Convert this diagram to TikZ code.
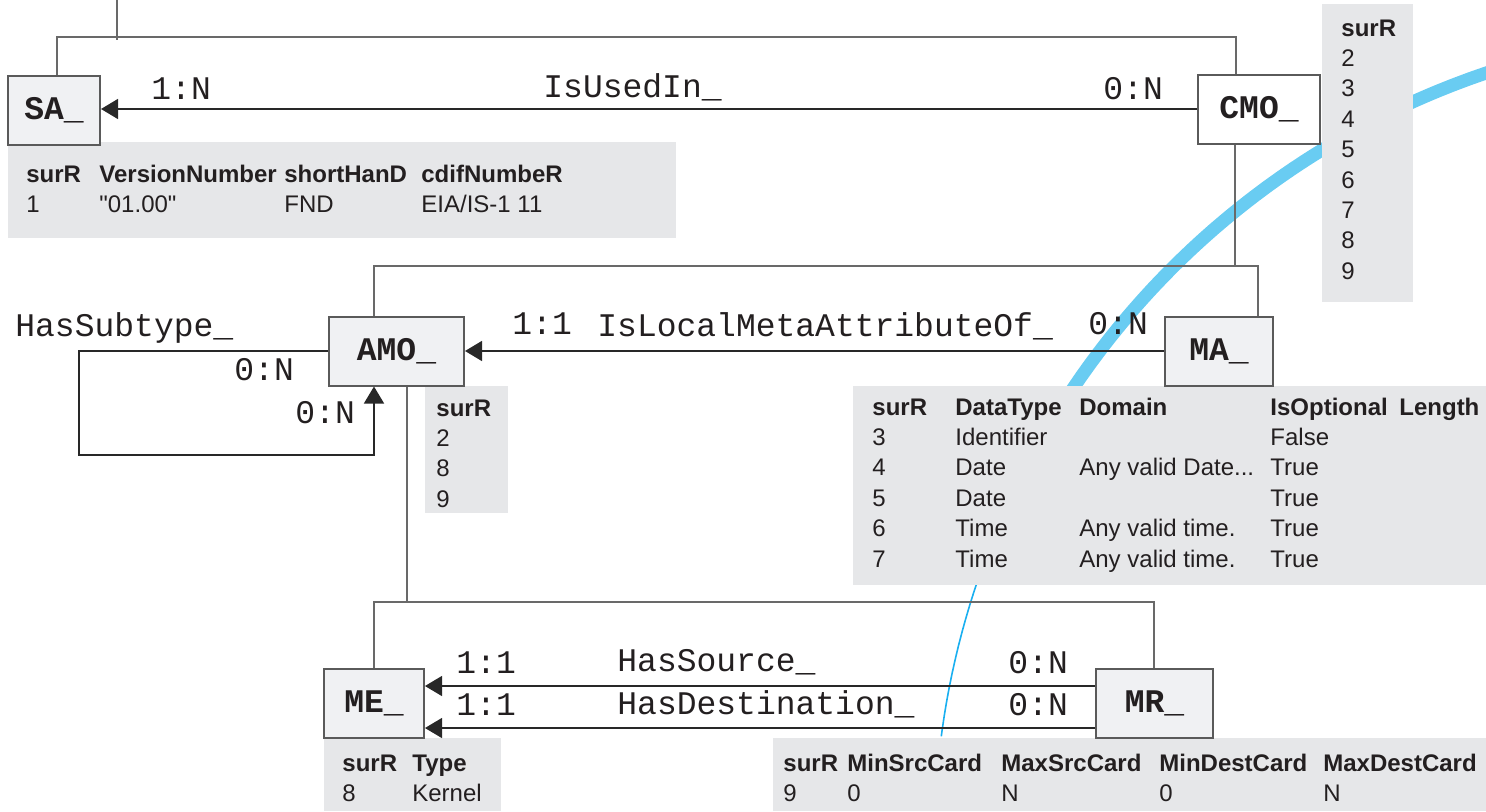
\documentclass[tikz,border=0pt]{standalone}
\usepackage{fontspec}
\setmainfont{Liberation Sans}[Ligatures=TeXOff]
\newfontfamily\codefont{Liberation Mono}
\usetikzlibrary{arrows.meta}
\definecolor{tblfill}{RGB}{230,231,233}
\definecolor{boxfill}{RGB}{240,241,243}
\definecolor{boxline}{RGB}{90,90,90}
\definecolor{wirecol}{RGB}{105,105,105}
\definecolor{relcol}{RGB}{40,40,40}
\definecolor{ink}{RGB}{35,31,32}
\definecolor{bandcol}{RGB}{105,204,242}
\definecolor{arccol}{RGB}{25,175,240}

\begin{document}
\begin{tikzpicture}[x=0.5pt,y=-0.5pt,
  entity/.style={draw=boxline, line width=1pt, fill=boxfill, inner sep=0pt,
    minimum height=34.5pt, font=\codefont\fontsize{16.5}{18}\selectfont\bfseries, text=ink},
  wire/.style={draw=wirecol, line width=0.75pt},
  rel/.style={draw=relcol, line width=0.7pt, -{Triangle[length=8.5pt,width=10pt]}},
  lbl/.style={anchor=base west, inner sep=0pt, text=ink,
    font=\codefont\fontsize{16.5}{18}\selectfont},
  tbl/.style={anchor=base west, inner sep=0pt, text=ink,
    font=\fontsize{12}{15.2}\selectfont},
  band/.style={draw=bandcol, line width=6.5pt},
  thinarc/.style={draw=arccol, line width=0.8pt}]
\useasboundingbox (0,0) rectangle (1486,811);

% sweeping arc in the background
\begin{scope}
  \clip (0,0) rectangle (1486,811);
  \draw[band] plot[domain=104:152,samples=90]
    ({1746.5+812.2*cos(\x)},{842.3-812.2*sin(\x)});
  \draw[thinarc] plot[domain=150:172.5,samples=60]
    ({1746.5+812.2*cos(\x)},{842.3-812.2*sin(\x)});
\end{scope}

% attribute tables
\fill[tblfill] (8,142) rectangle (676,238);
\node[tbl] (satab) at (26,182) {\setlength\tabcolsep{0pt}%
  \begin{tabular}[t]{p{36.5pt}p{92.5pt}p{68.5pt}l}
  \bfseries surR & \bfseries VersionNumber & \bfseries shortHanD & \bfseries cdifNumbeR\\
  1 & "01.00" & FND & EIA/IS-1 11
  \end{tabular}};

\fill[tblfill] (1322,4) rectangle (1413,302);
\node[tbl] (cmotab) at (1341,36) {\setlength\tabcolsep{0pt}%
  \begin{tabular}[t]{l}
  \bfseries surR\\ 2\\ 3\\ 4\\ 5\\ 6\\ 7\\ 8\\ 9
  \end{tabular}};

\fill[tblfill] (425,386) rectangle (508,513);
\node[tbl] (amotab) at (436,416) {\setlength\tabcolsep{0pt}%
  \begin{tabular}[t]{l}
  \bfseries surR\\ 2\\ 8\\ 9
  \end{tabular}};

\fill[tblfill] (853,386) rectangle (1486,585);
\node[tbl] (matab) at (872,415) {\setlength\tabcolsep{0pt}%
  \begin{tabular}[t]{p{41.5pt}p{62pt}p{95.5pt}p{64.5pt}l}
  \bfseries surR & \bfseries DataType & \bfseries Domain & \bfseries IsOptional & \bfseries Length\\
  3 & Identifier & & False & \\
  4 & Date & Any valid Date... & True & \\
  5 & Date & & True & \\
  6 & Time & Any valid time. & True & \\
  7 & Time & Any valid time. & True &
  \end{tabular}};

\fill[tblfill] (324,738) rectangle (501,811);
\node[tbl] (metab) at (342,771) {\setlength\tabcolsep{0pt}%
  \begin{tabular}[t]{p{35pt}l}
  \bfseries surR & \bfseries Type\\
  8 & Kernel
  \end{tabular}};

\fill[tblfill] (773,738) rectangle (1486,811);
\node[tbl] (mrtab) at (783,771) {\setlength\tabcolsep{0pt}%
  \begin{tabular}[t]{p{32pt}p{77pt}p{79pt}p{82pt}l}
  \bfseries surR & \bfseries MinSrcCard & \bfseries MaxSrcCard & \bfseries MinDestCard & \bfseries MaxDestCard\\
  9 & 0 & N & 0 & N
  \end{tabular}};

% entity boxes
\node[entity, minimum width=46pt]               (sa)  at (54,110.5)   {SA\_};
\node[entity, minimum width=61pt, fill=white]   (cmo) at (1259,109.5) {CMO\_};
\node[entity, minimum width=67.5pt]             (amo) at (396.5,351)  {AMO\_};
\node[entity, minimum width=54pt]               (ma)  at (1219,351.5) {MA\_};
\node[entity, minimum width=50pt]               (me)  at (374,703.5)  {ME\_};
\node[entity, minimum width=58.5pt]             (mr)  at (1154.5,703.5) {MR\_};

% hierarchy wiring
\coordinate (tin) at (117,0);
\coordinate (tinend) at (117,40);
\coordinate (tl) at (57,37);
\coordinate (tr) at (1236,37);
\draw[wire] (tin) -- (tinend);
\draw[wire] (sa.north -| tl) -- (tl) -- (tr) -- (cmo.north -| tr);

\coordinate (mc) at (1235,266);
\coordinate (ml) at (374,266);
\coordinate (mr2) at (1258,266);
\draw[wire] (cmo.south -| mc) -- (mc);
\draw[wire] (amo.north -| ml) -- (ml) -- (mr2) -- (ma.north -| mr2);

\coordinate (bc) at (407,603);
\coordinate (bl) at (374,602);
\coordinate (br) at (1154,602);
\draw[wire] (amo.south -| bc) -- (bc);
\draw[wire] (me.north -| bl) -- (bl) -- (br) -- (mr.north -| br);

% relationships
\coordinate (used) at (0,109);
\draw[rel] (cmo.west |- used) -- (sa.east |- used);
\draw[rel] (ma.west |- amo.east) -- (amo.east);
\coordinate (src) at (0,686);
\coordinate (dst) at (0,728);
\draw[rel] (mr.west |- src) -- (me.east |- src);
\draw[rel] (mr.west |- dst) -- (me.east |- dst);
\coordinate (lp1) at (79,351);
\coordinate (lp2) at (79,455);
\coordinate (lp3) at (374,455);
\draw[rel] (amo.west) -- (amo.west -| lp1) -- (lp2) -- (lp3) -- (amo.south -| lp3);

% relationship labels
\node[lbl] (c1) at (151,99)  {1:N};
\node[lbl] (n1) at (543,97)  {IsUsedIn\_};
\node[lbl] (c2) at (1103,99) {0:N};
\node[lbl] (n2) at (15,336)  {HasSubtype\_};
\node[lbl] (c3) at (512,334) {1:1};
\node[lbl] (n3) at (597,336) {IsLocalMetaAttributeOf\_};
\node[lbl] (c4) at (1088,334) {0:N};
\node[lbl] (c5) at (234,380) {0:N};
\node[lbl] (c6) at (295,423) {0:N};
\node[lbl] (c7) at (456,673) {1:1};
\node[lbl] (n4) at (617,671) {HasSource\_};
\node[lbl] (c8) at (1008,673) {0:N};
\node[lbl] (c9) at (456,715) {1:1};
\node[lbl] (n5) at (617,714) {HasDestination\_};
\node[lbl] (c10) at (1008,715) {0:N};
\end{tikzpicture}
\end{document}
